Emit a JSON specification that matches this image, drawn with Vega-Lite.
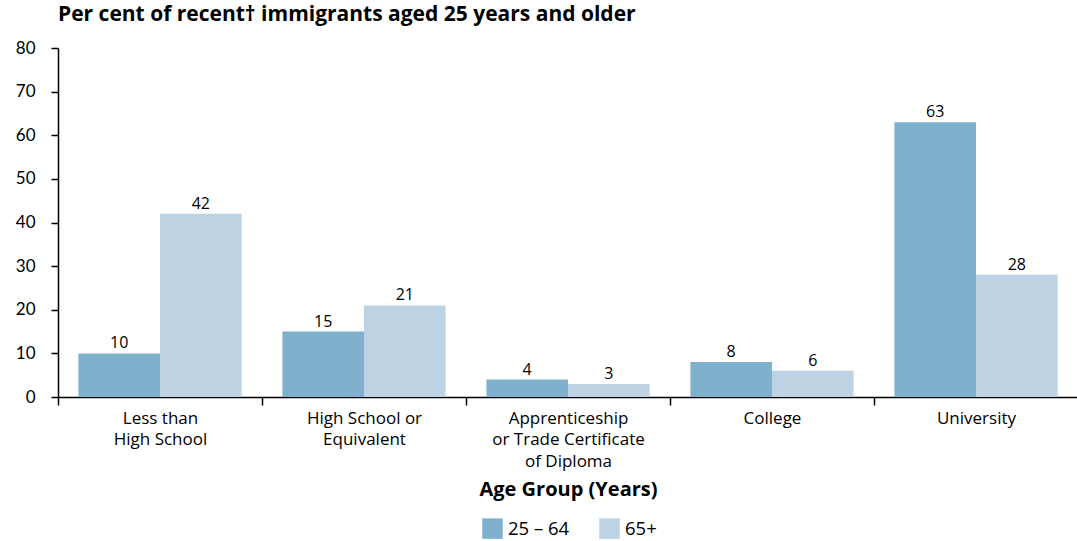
{
  "$schema": "https://vega.github.io/schema/vega-lite/v6.json",
  "width": 1020,
  "height": 349,
  "padding": {"left": 15, "top": 4, "right": 0, "bottom": 0},
  "background": "white",
  "title": {
    "text": "Per cent of recent† immigrants aged 25 years and older",
    "anchor": "start",
    "frame": "group",
    "font": "Open Sans",
    "fontSize": 21,
    "fontWeight": "bold",
    "color": "#000000",
    "offset": 14
  },
  "config": {
    "view": {"stroke": null},
    "font": "Lato",
    "axis": {"labelFont": "Lato", "titleFont": "Open Sans", "labelColor": "#000", "titleColor": "#000", "domainColor": "#000", "tickColor": "#000", "grid": false}
  },
  "data": {
    "values": [
      {"education": "Less than High School", "age": "25 – 64", "pct": 10},
      {"education": "Less than High School", "age": "65+", "pct": 42},
      {"education": "High School or Equivalent", "age": "25 – 64", "pct": 15},
      {"education": "High School or Equivalent", "age": "65+", "pct": 21},
      {"education": "Apprenticeship or Trade Certificate of Diploma", "age": "25 – 64", "pct": 4},
      {"education": "Apprenticeship or Trade Certificate of Diploma", "age": "65+", "pct": 3},
      {"education": "College", "age": "25 – 64", "pct": 8},
      {"education": "College", "age": "65+", "pct": 6},
      {"education": "University", "age": "25 – 64", "pct": 63},
      {"education": "University", "age": "65+", "pct": 28}
    ]
  },
  "encoding": {
    "x": {
      "field": "education",
      "type": "nominal",
      "sort": ["Less than High School", "High School or Equivalent", "Apprenticeship or Trade Certificate of Diploma", "College", "University"],
      "scale": {"paddingInner": 0, "paddingOuter": 0},
      "axis": {
        "title": "Age Group (Years)",
        "titleFontSize": 20,
        "titleFontWeight": "bold",
        "titlePadding": 10,
        "labelAngle": 0,
        "labelFont": "Open Sans",
        "labelFontSize": 17,
        "labelLineHeight": 21.5,
        "labelPadding": 5,
        "tickBand": "extent",
        "tickSize": 8,
        "tickWidth": 1.5,
        "domainWidth": 1.5,
        "labelExpr": "datum.value == 'Less than High School' ? ['Less than', 'High School'] : datum.value == 'High School or Equivalent' ? ['High School or', 'Equivalent'] : datum.value == 'Apprenticeship or Trade Certificate of Diploma' ? ['Apprenticeship', 'or Trade Certificate', 'of Diploma'] : datum.value"
      }
    },
    "xOffset": {
      "field": "age",
      "type": "nominal",
      "scale": {"paddingInner": 0, "paddingOuter": 0.25}
    },
    "y": {
      "field": "pct",
      "type": "quantitative",
      "scale": {"domain": [0, 80]},
      "axis": {
        "title": null,
        "values": [0, 10, 20, 30, 40, 50, 60, 70, 80],
        "labelFontSize": 17,
        "labelPadding": 16,
        "tickSize": 7,
        "tickWidth": 1.5,
        "domainWidth": 1.5
      }
    }
  },
  "layer": [
    {
      "mark": {"type": "bar"},
      "encoding": {
        "color": {
          "field": "age",
          "type": "nominal",
          "scale": {"domain": ["25 – 64", "65+"], "range": ["#7fb0ce", "#bdd2e2"]},
          "legend": {
            "title": null,
            "orient": "none",
            "direction": "horizontal",
            "legendX": 424,
            "legendY": 470,
            "symbolType": "square",
            "symbolSize": 420,
            "symbolStrokeWidth": 0,
            "labelFontSize": 18.5,
            "labelFont": "Open Sans",
            "labelColor": "#000",
            "labelOffset": 5,
            "columnPadding": 29
          }
        }
      }
    },
    {
      "mark": {"type": "text", "dy": -10, "fontSize": 16, "font": "Open Sans", "color": "#000"},
      "encoding": {"text": {"field": "pct", "type": "quantitative"}}
    }
  ]
}
